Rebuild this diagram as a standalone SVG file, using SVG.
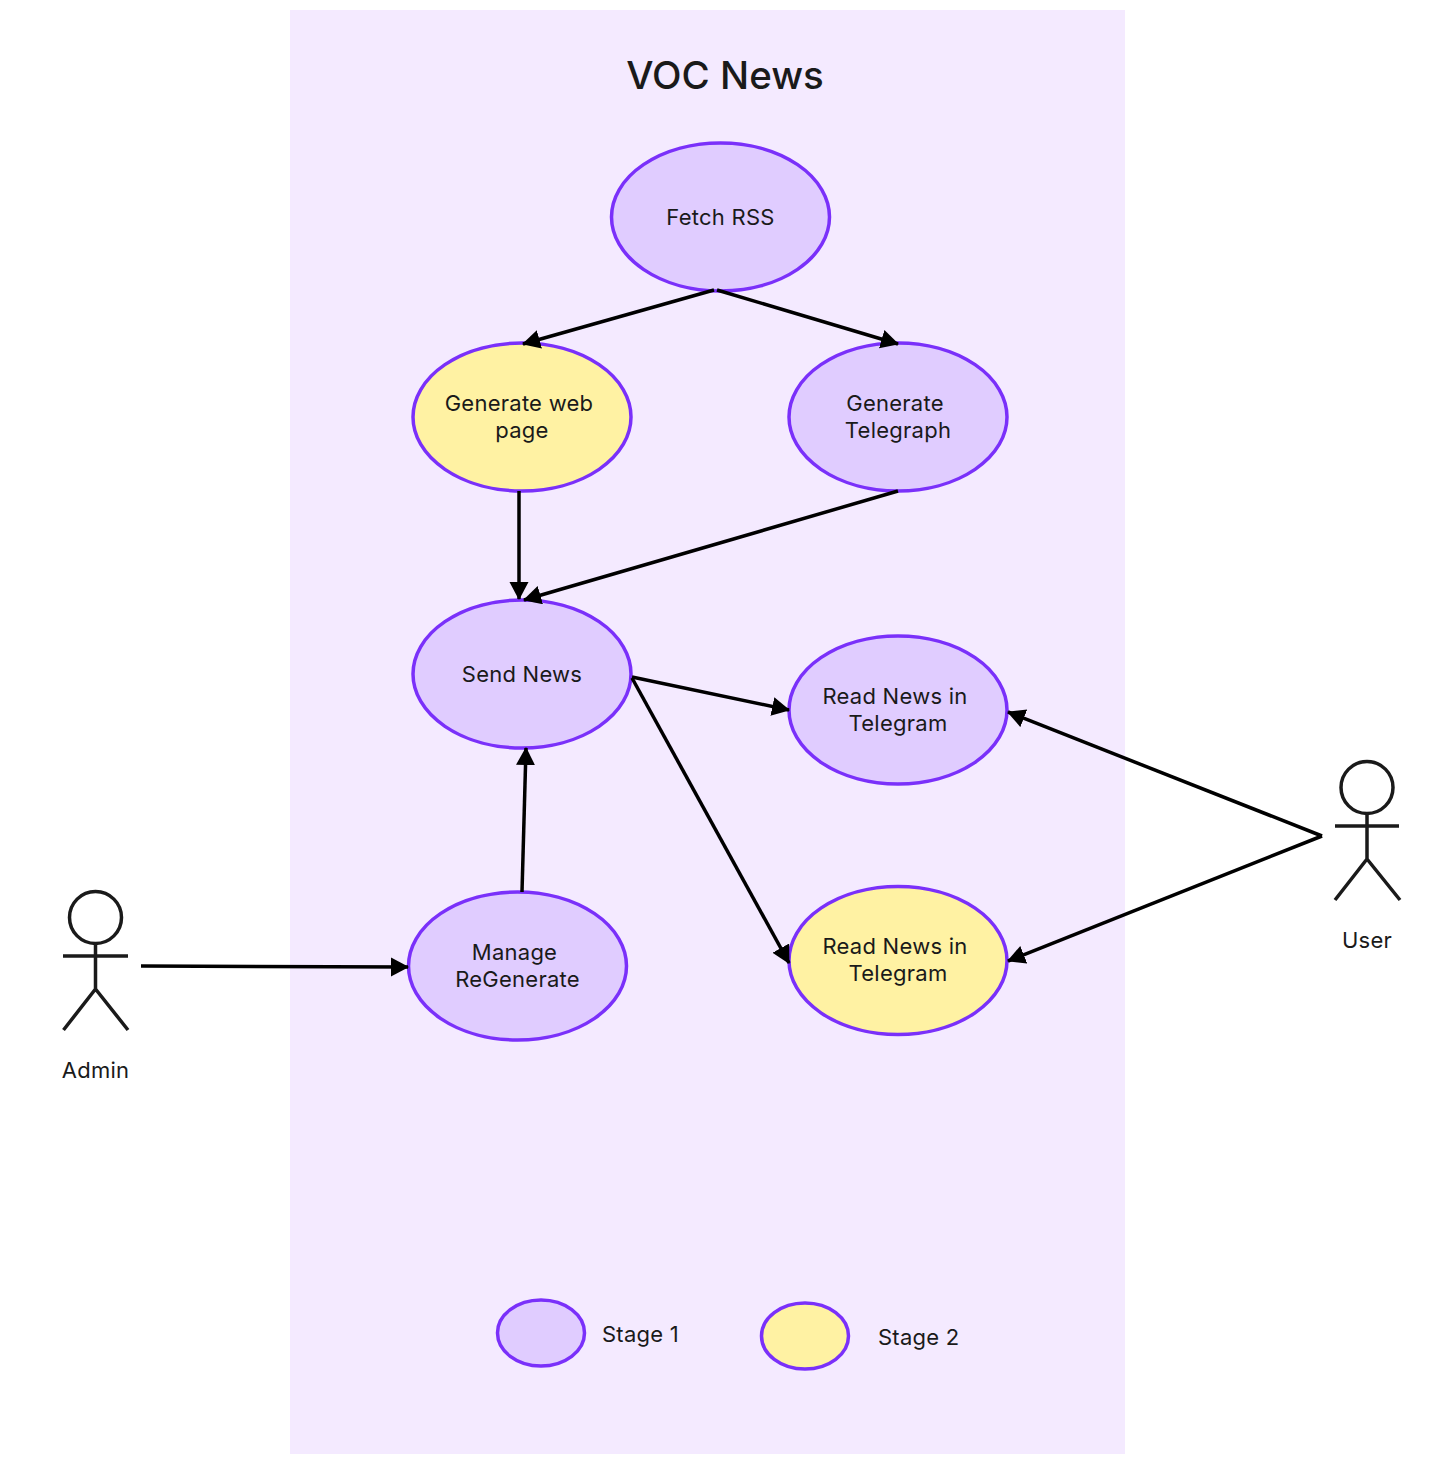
<svg xmlns="http://www.w3.org/2000/svg" width="1448" height="1476" viewBox="0 0 1448 1476">
<style>
text{font-family:Inter,"Liberation Sans",sans-serif;fill:#1a1a1a;font-size:22px;letter-spacing:.25px}
.c{text-anchor:middle}
.p{fill:#e0ccff;stroke:#7a30fa;stroke-width:3.500}
.y{fill:#fff2a3;stroke:#7a30fa;stroke-width:3.500}
.a{fill:none;stroke:#1a1a1a;stroke-width:3.500}
.l{fill:none;stroke:#000;stroke-width:3.500;marker-end:url(#ah)}
</style>
<defs><marker id="ah" markerUnits="userSpaceOnUse" markerWidth="20" markerHeight="20" refX="17" refY="9.500" orient="auto"><path d="M0 0L18 9.500L0 19Z" fill="#000"/></marker></defs>
<rect x="290" y="10" width="835" height="1444" fill="#f4eaff"/>
<text id="title" class="c" x="725" y="89" style="font-size:38.500px;font-weight:500;letter-spacing:0">VOC News</text>
<g id="n1"><ellipse class="p" cx="720.500" cy="217" rx="109" ry="74"/><text class="c" x="720.500" y="225">Fetch RSS</text></g>
<g id="n2"><ellipse class="y" cx="522" cy="417" rx="109" ry="74"/><text class="c" x="519" y="411">Generate web</text><text class="c" x="522" y="438">page</text></g>
<g id="n3"><ellipse class="p" cx="898" cy="417" rx="109" ry="74"/><text class="c" x="895" y="411">Generate</text><text class="c" x="898" y="438">Telegraph</text></g>
<g id="n4"><ellipse class="p" cx="522" cy="674" rx="109" ry="74"/><text class="c" x="522" y="682">Send News</text></g>
<g id="n5"><ellipse class="p" cx="898" cy="710" rx="109" ry="74"/><text class="c" x="895" y="704">Read News in</text><text class="c" x="898" y="731">Telegram</text></g>
<g id="n6"><ellipse class="y" cx="898" cy="960.500" rx="109" ry="74"/><text class="c" x="895" y="954">Read News in</text><text class="c" x="898" y="981">Telegram</text></g>
<g id="n7"><ellipse class="p" cx="517.500" cy="966" rx="109" ry="74"/><text class="c" x="514.500" y="960">Manage</text><text class="c" x="517.500" y="987">ReGenerate</text></g>
<g id="admin"><circle class="a" cx="95.500" cy="917.500" r="26"/><path class="a" d="M95.500 944V989M63 956H128M95.500 989L63.500 1030M95.500 989L128 1030"/><text class="c" x="95.500" y="1078">Admin</text></g>
<g id="user"><circle class="a" cx="1367" cy="787.500" r="26"/><path class="a" d="M1367 814V859M1335 826H1399M1367 859L1335 900M1367 859L1400 900"/><text class="c" x="1367" y="948">User</text></g>
<g id="legend1"><ellipse class="p" cx="541" cy="1333" rx="43.500" ry="33"/><text x="602" y="1342">Stage 1</text></g>
<g id="legend2"><ellipse class="y" cx="805" cy="1336" rx="43.500" ry="33"/><text x="878" y="1345">Stage 2</text></g>
<g id="connectors">
<path class="l" d="M714 290L523 344"/>
<path class="l" d="M717 290L898 344"/>
<path class="l" d="M519 491V599"/>
<path class="l" d="M898 491L524 600"/>
<path class="l" d="M632 677L789 710"/>
<path class="l" d="M632 678L789 963"/>
<path class="l" d="M522 892L526 748"/>
<path class="l" d="M141 966L408 967"/>
<path class="l" d="M1322 836L1008 712"/>
<path class="l" d="M1322 836L1008 961"/>
</g>
</svg>
